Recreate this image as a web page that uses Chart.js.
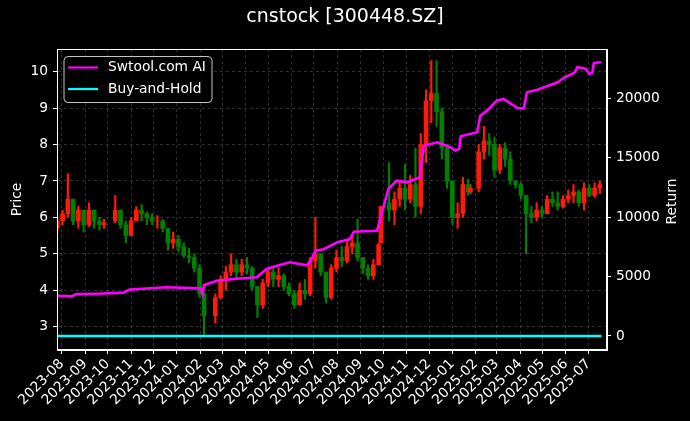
<!DOCTYPE html>
<html>
<head>
<meta charset="utf-8">
<script src="https://cdn.jsdelivr.net/npm/chart.js@4.4.1/dist/chart.umd.min.js"></script>
<style>
  html, body { margin: 0; padding: 0; background: #000; }
  canvas { display: block; }
</style>
</head>
<body>
<canvas id="chart" width="690" height="421"></canvas>
<script>
// weekly candles (week ending date)
const weekDates = [
  '2023-07-28','2023-08-04','2023-08-11','2023-08-18','2023-08-25','2023-09-01','2023-09-08','2023-09-15','2023-09-22','2023-09-28',
  '2023-10-13','2023-10-20','2023-10-27','2023-11-03','2023-11-10','2023-11-17','2023-11-24','2023-12-01','2023-12-08','2023-12-15','2023-12-22','2023-12-29',
  '2024-01-05','2024-01-12','2024-01-19','2024-01-26','2024-02-02','2024-02-08',
  '2024-02-23','2024-03-01','2024-03-08','2024-03-15','2024-03-22','2024-03-29','2024-04-05','2024-04-12','2024-04-19','2024-04-26','2024-05-03',
  '2024-05-10','2024-05-17','2024-05-24','2024-05-31','2024-06-07','2024-06-14','2024-06-21','2024-06-28','2024-07-05','2024-07-12','2024-07-19','2024-07-26',
  '2024-08-02','2024-08-09','2024-08-16','2024-08-23','2024-08-30','2024-09-06','2024-09-13','2024-09-20','2024-09-27','2024-09-30',
  '2024-10-11','2024-10-18','2024-10-25','2024-11-01','2024-11-08','2024-11-15','2024-11-22','2024-11-29','2024-12-06','2024-12-13','2024-12-20','2024-12-27',
  '2025-01-03','2025-01-10','2025-01-17','2025-01-24','2025-01-27','2025-02-07','2025-02-14','2025-02-21','2025-02-28',
  '2025-03-07','2025-03-14','2025-03-21','2025-03-28','2025-04-04','2025-04-11','2025-04-18','2025-04-25','2025-05-02',
  '2025-05-09','2025-05-16','2025-05-23','2025-05-30','2025-06-06','2025-06-13','2025-06-20','2025-06-27','2025-07-04','2025-07-11','2025-07-18'
];
const openPx = [
  5.7, 5.9, 6.1, 6.5, 5.9, 6.2, 5.8, 6.2, 5.9, 5.8,
  5.9, 6.2, 5.8, 5.5, 5.9, 6.2, 6.1, 6.0, 5.9, 5.9, 5.7, 5.3,
  5.4, 5.2, 4.95, 4.9, 4.6, 3.9,
  3.3, 3.8, 4.3, 4.5, 4.7, 4.5, 4.7, 4.6, 4.1, 3.6, 4.2,
  4.5, 4.3, 4.4, 4.1, 3.9, 3.6, 4.0, 3.9, 4.8, 5.0, 4.5, 3.8,
  4.6, 4.9, 4.8, 5.2, 5.3, 4.9, 4.6, 4.4, 4.7, 5.3,
  6.4, 6.2, 6.5, 6.8, 6.5, 6.9, 6.3, 8.0, 9.2, 9.4, 8.9, 7.9,
  7.0, 6.0, 6.1, 6.9, 6.7, 6.8, 7.8, 8.1, 8.0,
  7.3, 7.9, 7.6, 7.0, 6.9, 6.6, 6.1, 6.0, 6.2,
  6.1, 6.5, 6.4, 6.3, 6.5, 6.6, 6.7, 6.4, 6.8, 6.6, 6.8
];
const highPx = [
  6.0, 6.2, 7.2, 6.5, 6.3, 6.2, 6.4, 6.2, 6.0, 5.95,
  6.6, 6.2, 5.9, 6.0, 6.3, 6.35, 6.15, 6.1, 6.05, 5.95, 5.7, 5.6,
  5.5, 5.3, 5.15, 5.0, 4.7, 3.95,
  3.9, 4.4, 4.65, 5.0, 4.85, 4.85, 4.9, 4.65, 4.1, 4.3, 4.6,
  4.6, 4.6, 4.45, 4.2, 4.0, 4.2, 4.3, 4.9, 6.0, 5.0, 4.5, 4.7,
  5.1, 5.2, 5.4, 5.5, 5.95, 4.9, 4.7, 4.85, 5.3, 6.3,
  7.5, 6.7, 7.0, 7.45, 7.15, 7.9, 8.3, 9.5, 10.3, 10.3, 9.0, 8.0,
  7.0, 6.4, 7.1, 7.05, 6.9, 8.0, 8.5, 8.3, 8.2,
  8.0, 8.05, 7.8, 7.0, 6.95, 6.6, 6.3, 6.4, 6.3,
  6.6, 6.7, 6.7, 6.6, 6.75, 6.9, 6.75, 6.95, 6.9, 6.95, 7.0
];
const lowPx = [
  5.6, 5.8, 6.0, 5.8, 5.7, 5.6, 5.75, 5.7, 5.65, 5.7,
  5.85, 5.7, 5.3, 5.5, 5.9, 5.9, 5.8, 5.8, 5.7, 5.6, 5.1, 5.15,
  5.05, 4.9, 4.75, 4.5, 3.8, 2.75,
  3.1, 3.75, 4.0, 4.4, 4.3, 4.4, 4.45, 4.0, 3.25, 3.5, 4.1,
  4.1, 4.1, 4.0, 3.85, 3.5, 3.6, 3.75, 3.85, 4.6, 4.4, 3.65, 3.75,
  4.5, 4.65, 4.75, 5.0, 4.8, 4.45, 4.3, 4.3, 4.7, 5.3,
  5.9, 5.8, 6.3, 6.2, 6.4, 6.0, 6.1, 7.5, 8.6, 8.5, 7.6, 6.8,
  5.8, 5.7, 6.0, 6.6, 6.65, 6.7, 7.6, 7.7, 7.1,
  7.2, 7.4, 6.9, 6.8, 6.5, 5.0, 5.85, 5.9, 6.0,
  6.1, 6.3, 6.2, 6.25, 6.4, 6.4, 6.3, 6.2, 6.55, 6.55, 6.65
];
const closePx = [
  5.9, 6.1, 6.5, 5.9, 6.2, 5.8, 6.2, 5.9, 5.8, 5.85,
  6.2, 5.8, 5.5, 5.9, 6.2, 6.1, 6.0, 5.9, 5.9, 5.7, 5.3, 5.4,
  5.2, 4.95, 4.9, 4.6, 3.9, 3.3,
  3.8, 4.3, 4.5, 4.7, 4.5, 4.7, 4.6, 4.1, 3.6, 4.2, 4.5,
  4.3, 4.4, 4.1, 3.9, 3.6, 4.0, 3.9, 4.8, 5.0, 4.5, 3.8, 4.6,
  4.9, 4.8, 5.2, 5.3, 4.9, 4.6, 4.4, 4.7, 5.25, 6.3,
  6.2, 6.5, 6.8, 6.5, 6.9, 6.3, 8.0, 9.2, 9.4, 8.9, 7.9, 7.0,
  6.0, 6.1, 6.9, 6.7, 6.8, 7.8, 8.1, 8.0, 7.3,
  7.9, 7.6, 7.0, 6.9, 6.6, 6.1, 6.0, 6.2, 6.1,
  6.5, 6.4, 6.3, 6.5, 6.6, 6.7, 6.4, 6.8, 6.6, 6.8, 6.9
];

// strategy return curves (right axis)
const aiDates = [
  '2023-07-27','2023-08-14','2023-08-20','2023-09-16','2023-10-22','2023-10-30','2023-12-18',
  '2024-02-01','2024-02-04','2024-02-06','2024-02-23','2024-03-16','2024-04-16','2024-04-29','2024-05-13',
  '2024-05-30','2024-06-22','2024-06-28','2024-07-03','2024-07-14','2024-08-01','2024-08-18','2024-08-23','2024-09-23','2024-09-27','2024-10-08',
  '2024-10-19','2024-11-02','2024-11-19','2024-11-24','2024-12-12','2024-12-29','2025-01-05','2025-01-10','2025-01-12','2025-02-03','2025-02-07','2025-02-16','2025-03-01',
  '2025-03-10','2025-03-29','2025-04-06','2025-04-10','2025-04-24','2025-05-21','2025-05-30','2025-06-12','2025-06-16','2025-06-27','2025-07-02','2025-07-06','2025-07-08','2025-07-18'
];
const aiReturn = [
  3390, 3330, 3530, 3560, 3650, 3900, 4100,
  4010, 3530, 4300, 4650, 4800, 4940, 5640, 5920,
  6200, 5950, 6480, 7180, 7300, 7880, 8160, 8780, 8860, 9840, 12370,
  13070, 12930, 13350, 16010, 16300, 15880, 15600, 15750, 16800, 17140, 18540, 18960, 19800,
  19940, 19160, 19160, 20500, 20720, 21350, 21770, 22130, 22610, 22500, 22050, 22150, 22970, 23030
];
const bhDates = ['2023-07-27', '2024-02-08', '2024-12-10', '2025-07-18'];
const bhReturn = [0, 0, 0, 0];

const monthTicks = [
  '2023-08','2023-09','2023-10','2023-11','2023-12',
  '2024-01','2024-02','2024-03','2024-04','2024-05','2024-06','2024-07','2024-08','2024-09','2024-10','2024-11','2024-12',
  '2025-01','2025-02','2025-03','2025-04','2025-05','2025-06','2025-07'
];
const returnTicks = [0, 5000, 10000, 15000, 20000];

const DAY = 86400000;
function dayNum(s) {
  return Date.parse(s.length === 7 ? s + '-01' : s) / DAY;
}

const upDown = closePx.map((c, i) => c >= openPx[i] ? '#ff1a0a' : '#008000');
const wicks = weekDates.map((d, i) => ({ x: dayNum(d) - 2, y: [lowPx[i], highPx[i]] }));
const bodies = weekDates.map((d, i) => ({ x: dayNum(d) - 2, y: [openPx[i], closePx[i]] }));

const font = { family: 'DejaVu Sans', size: 13.8 };

// frame, legend box and right axis label
const overlay = {
  id: 'overlay',
  afterDraw(chart) {
    const { ctx, chartArea: a } = chart;
    ctx.save();
    ctx.strokeStyle = '#fff';
    ctx.lineWidth = 1;
    ctx.strokeRect(a.left + 0.5, a.top + 0.5, a.right - a.left - 1, a.bottom - a.top - 1);

    // legend
    const bx = a.left + 7, by = a.top + 7.5, bw = 148, bh = 46, r = 4;
    ctx.beginPath();
    ctx.moveTo(bx + r, by);
    ctx.arcTo(bx + bw, by, bx + bw, by + bh, r);
    ctx.arcTo(bx + bw, by + bh, bx, by + bh, r);
    ctx.arcTo(bx, by + bh, bx, by, r);
    ctx.arcTo(bx, by, bx + bw, by, r);
    ctx.closePath();
    ctx.fillStyle = 'rgba(0,0,0,0.8)';
    ctx.fill();
    ctx.strokeStyle = 'rgba(220,220,220,0.9)';
    ctx.stroke();

    const items = chart.data.datasets.filter(ds => ds.type === 'line');
    ctx.font = '13.8px "DejaVu Sans"';
    ctx.textBaseline = 'middle';
    items.forEach((ds, i) => {
      const y = by + 11 + i * 21.5;
      ctx.strokeStyle = ds.borderColor;
      ctx.lineWidth = 2.2;
      ctx.beginPath();
      ctx.moveTo(bx + 4, y);
      ctx.lineTo(bx + 34, y);
      ctx.stroke();
      ctx.fillStyle = '#fff';
      ctx.fillText(ds.label, bx + 44, y);
    });

    ctx.translate(672, (a.top + a.bottom) / 2 + 2);
    ctx.rotate(-Math.PI / 2);
    ctx.textAlign = 'center';
    ctx.fillStyle = '#fff';
    ctx.fillText('Return', 0, 0);
    ctx.restore();
  }
};

new Chart(document.getElementById('chart'), {
  type: 'bar',
  data: {
    datasets: [
      {
        type: 'line', label: 'Swtool.com AI', yAxisID: 'y2', order: 0,
        data: aiDates.map((d, i) => ({ x: dayNum(d), y: aiReturn[i] })),
        borderColor: '#ff00ff', borderWidth: 2.6, pointRadius: 0, tension: 0
      },
      {
        type: 'line', label: 'Buy-and-Hold', yAxisID: 'y2', order: 0,
        data: bhDates.map((d, i) => ({ x: dayNum(d), y: bhReturn[i] })),
        borderColor: '#00ffff', borderWidth: 2.6, pointRadius: 0, tension: 0
      },
      {
        label: 'body', yAxisID: 'y', order: 1, grouped: false,
        data: bodies, backgroundColor: upDown, borderWidth: 0, barThickness: 4
      },
      {
        label: 'wick', yAxisID: 'y', order: 2, grouped: false,
        data: wicks, backgroundColor: upDown, borderWidth: 0, barThickness: 1.5
      }
    ]
  },
  options: {
    responsive: false,
    animation: false,
    devicePixelRatio: 1,
    plugins: {
      legend: { display: false },
      tooltip: { enabled: false },
      title: {
        display: true, text: 'cnstock [300448.SZ]', color: '#fff',
        font: { family: 'DejaVu Sans', size: 19, weight: 'normal' },
        padding: { top: 5.5, bottom: 20.7 }
      }
    },
    scales: {
      x: {
        type: 'linear', offset: false,
        min: dayNum('2023-07-25') + 0.6, max: dayNum('2025-07-25') + 0.5,
        afterBuildTicks: s => { s.ticks = monthTicks.map(m => ({ value: dayNum(m) })); },
        afterFit: s => { s.height = 71; },
        ticks: {
          color: '#fff', font, autoSkip: false, maxRotation: 45, minRotation: 45, padding: 2,
          callback: v => {
            const d = new Date(v * DAY);
            return d.getUTCFullYear() + '-' + String(d.getUTCMonth() + 1).padStart(2, '0');
          }
        },
        grid: { offset: false, color: 'rgba(140,140,140,0.55)', lineWidth: 0.6, tickColor: '#fff', tickLength: 4, tickWidth: 1 },
        border: { color: '#fff', dash: [3, 3] }
      },
      y: {
        position: 'left', min: 2.36, max: 10.62,
        afterFit: s => { s.width = 57; },
        ticks: { stepSize: 1, includeBounds: false, color: '#fff', font, padding: 5 },
        grid: { color: 'rgba(140,140,140,0.55)', lineWidth: 0.6, tickColor: '#fff', tickLength: 4, tickWidth: 1 },
        border: { color: '#fff', dash: [3, 3] },
        title: { display: true, text: 'Price', color: '#fff', font, padding: { top: 9, bottom: 0 } }
      },
      y2: {
        position: 'right', min: -1178, max: 24148,
        afterBuildTicks: s => { s.ticks = returnTicks.map(v => ({ value: v })); },
        afterFit: s => { s.width = 83; },
        ticks: { color: '#fff', font, padding: 5, callback: v => String(v) },
        grid: { drawOnChartArea: false, tickColor: '#fff', tickLength: 4, tickWidth: 1 },
        border: { color: '#fff' }
      }
    }
  },
  plugins: [overlay]
});
</script>
</body>
</html>
